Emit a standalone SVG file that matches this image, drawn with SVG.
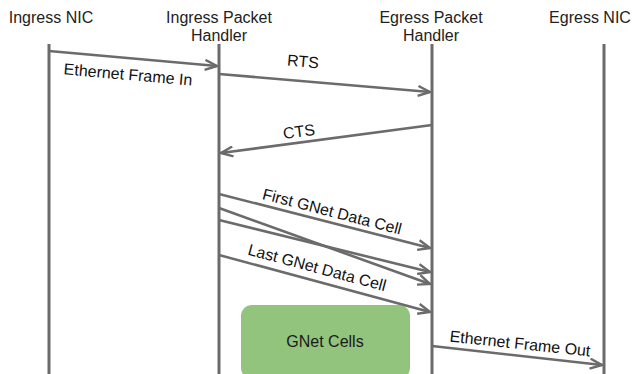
<svg xmlns="http://www.w3.org/2000/svg" width="632" height="374" viewBox="0 0 632 374">
  <style>
    .hdr { font-family: "Liberation Sans", Arial, sans-serif; font-size: 16px; fill: #222; text-anchor: middle; }
    .lbl { font-family: "Liberation Sans", Arial, sans-serif; font-size: 16px; fill: #111; text-anchor: middle; }
    .life { stroke: #6b6b6b; stroke-width: 3; fill: none; }
    .msg { stroke: #6b6b6b; stroke-width: 2.6; fill: none; marker-end: url(#arrow); }
    .box { fill: #93c47d; }
    .boxtxt { font-family: "Liberation Sans", Arial, sans-serif; font-size: 16px; fill: #1a1a1a; text-anchor: middle; }
  </style>
  <defs>
    <marker id="arrow" viewBox="0 0 14 12" refX="13" refY="6" markerWidth="14" markerHeight="12" markerUnits="userSpaceOnUse" orient="auto">
      <path d="M1,1 L13,6 L1,11" fill="none" stroke="#6b6b6b" stroke-width="2.4" stroke-linejoin="miter"/>
    </marker>
  </defs>
  <rect width="632" height="374" fill="#ffffff"/>

  <!-- participants -->
  <g id="ingress-nic">
    <text class="hdr" x="51" y="23">Ingress NIC</text>
    <line class="life" x1="49" y1="44" x2="49" y2="374"/>
  </g>
  <g id="ingress-handler">
    <text class="hdr" x="219" y="23">Ingress Packet</text>
    <text class="hdr" x="219" y="41">Handler</text>
    <line class="life" x1="219" y1="44" x2="219" y2="374"/>
  </g>
  <g id="egress-handler">
    <text class="hdr" x="431" y="23">Egress Packet</text>
    <text class="hdr" x="431" y="41">Handler</text>
    <line class="life" x1="432" y1="44" x2="432" y2="374"/>
  </g>
  <g id="egress-nic">
    <text class="hdr" x="590" y="23">Egress NIC</text>
    <line class="life" x1="604" y1="44" x2="604" y2="374"/>
  </g>

  <g id="gnet-cells">
    <rect class="box" x="241" y="305" width="169" height="74" rx="11"/>
    <text class="boxtxt" x="325" y="347">GNet Cells</text>
  </g>

  <!-- messages -->
  <g id="connectors">
    <line class="msg" x1="49" y1="51" x2="217" y2="66"/>
    <line class="msg" x1="219" y1="74" x2="430" y2="92"/>
    <line class="msg" x1="432" y1="125" x2="221" y2="153"/>
    <line class="msg" x1="219" y1="194" x2="430" y2="248"/>
    <line class="msg" x1="219" y1="208" x2="430" y2="284"/>
    <line class="msg" x1="219" y1="220" x2="430" y2="272"/>
    <line class="msg" x1="219" y1="255" x2="430" y2="312"/>
    <line class="msg" x1="432" y1="346" x2="602" y2="365"/>
  </g>

  <!-- message labels -->
  <g id="labels">
    <text class="lbl" transform="translate(128,75) rotate(5)" dy="5">Ethernet Frame In</text>
    <text class="lbl" transform="translate(303,62) rotate(5)" dy="5">RTS</text>
    <text class="lbl" transform="translate(299,132) rotate(-7.5)" dy="5">CTS</text>
    <text class="lbl" transform="translate(332,212) rotate(14.5)" dy="5">First GNet Data Cell</text>
    <text class="lbl" transform="translate(317,268) rotate(15)" dy="5">Last GNet Data Cell</text>
    <text class="lbl" transform="translate(520,344) rotate(6)" dy="5">Ethernet Frame Out</text>
  </g>
</svg>
